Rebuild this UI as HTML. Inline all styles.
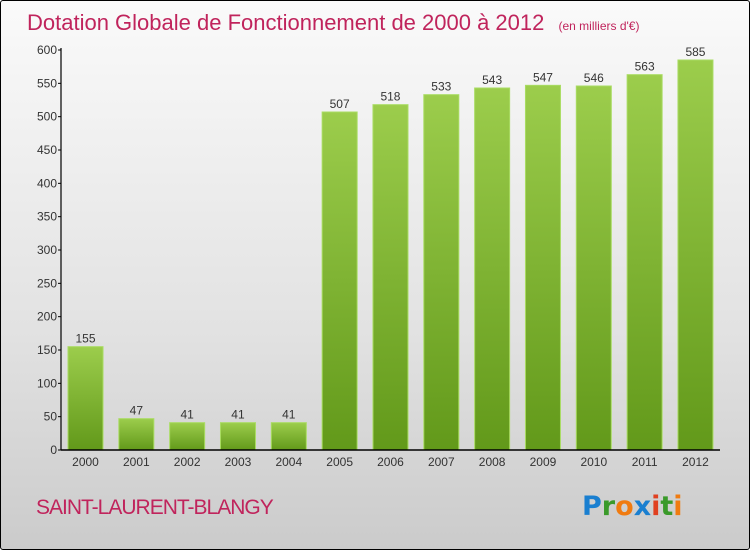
<!DOCTYPE html>
<html><head><meta charset="utf-8"><style>
html,body{margin:0;padding:0}
body{width:750px;height:550px;overflow:hidden;font-family:"Liberation Sans",sans-serif}
#wrap{position:absolute;left:0;top:0;width:748px;height:548px;border:1px solid #000;border-radius:3px;background:linear-gradient(#fafafa,#e2e2e2 60%,#cbcbcb)}
</style></head><body>
<div id="wrap">
<svg width="750" height="550" style="position:absolute;left:-1px;top:-1px">
<defs>
<linearGradient id="g" x1="0" y1="0" x2="0" y2="1"><stop offset="0" stop-color="#9ccd4c"/><stop offset="1" stop-color="#62991a"/></linearGradient>
</defs>
<text x="27" y="30" font-size="22" fill="#c0245c" font-family="Liberation Sans,sans-serif">Dotation Globale de Fonctionnement de 2000 à 2012 <tspan font-size="12" dx="8">(en milliers d'€)</tspan></text>
<g id="yaxis"></g>
<g id="bars"></g>
<g id="xaxis"></g>
<text x="36" y="514" font-size="21" fill="#c0245c" letter-spacing="-1">SAINT-LAURENT-BLANGY</text>
<text x="582" y="515" font-size="27" font-weight="bold" font-family="DejaVu Sans,sans-serif"><tspan fill="#1a7fd0">P</tspan><tspan fill="#3a9a2a">r</tspan><tspan fill="#f07b10">o</tspan><tspan fill="#1a7fd0">x</tspan><tspan fill="#e04020">i</tspan><tspan fill="#3a9a2a">t</tspan><tspan fill="#f07b10">i</tspan></text>
</svg>
</div>
<script>
const categories=["2000","2001","2002","2003","2004","2005","2006","2007","2008","2009","2010","2011","2012"];
const values=[155,47,41,41,41,507,518,533,543,547,546,563,585];
const yTicks=[0,50,100,150,200,250,300,350,400,450,500,550,600];
const NS="http://www.w3.org/2000/svg";
const y0=450,yTop=50,yMax=600,x0=61,step=50.83,bw=35,firstC=85.5;
const y=v=>y0-(v/yMax)*(y0-yTop);
const xc=i=>firstC+i*step;
function mk(t,a,p){const e=document.createElementNS(NS,t);for(const k in a)e.setAttribute(k,a[k]);p.appendChild(e);return e;}
const ya=document.getElementById('yaxis'),ba=document.getElementById('bars'),xa=document.getElementById('xaxis');
mk('line',{x1:x0,y1:yTop-2,x2:x0,y2:y0,stroke:'#000','stroke-width':1.2},ya);
yTicks.forEach(v=>{
 const l=mk('line',{x1:x0-3,x2:x0,y1:y(v),y2:y(v),stroke:'#000'},ya);
 const t=mk('text',{x:x0-4,y:y(v)+4,'font-size':12,fill:'#333','text-anchor':'end'},ya);
 
 
 t.textContent=v;
});
values.forEach((v,i)=>{
 const r=mk('rect',{x:xc(i)-bw/2,y:y(v),width:bw,height:y0-y(v),fill:'url(#g)',stroke:'#a9dc62','stroke-width':1},ba);
 
 
 const t=mk('text',{x:xc(i),y:y(v)-4,'font-size':12,fill:'#333','text-anchor':'middle'},ba);
 
 
 t.textContent=v;
 const c=mk('text',{x:xc(i),y:y0+16,'font-size':12,fill:'#333','text-anchor':'middle'},xa);
 
 
 c.textContent=categories[i];
});
mk('line',{x1:x0,y1:y0,x2:720,y2:y0,stroke:'#000','stroke-width':1.5},xa);
</script>
</body></html>
